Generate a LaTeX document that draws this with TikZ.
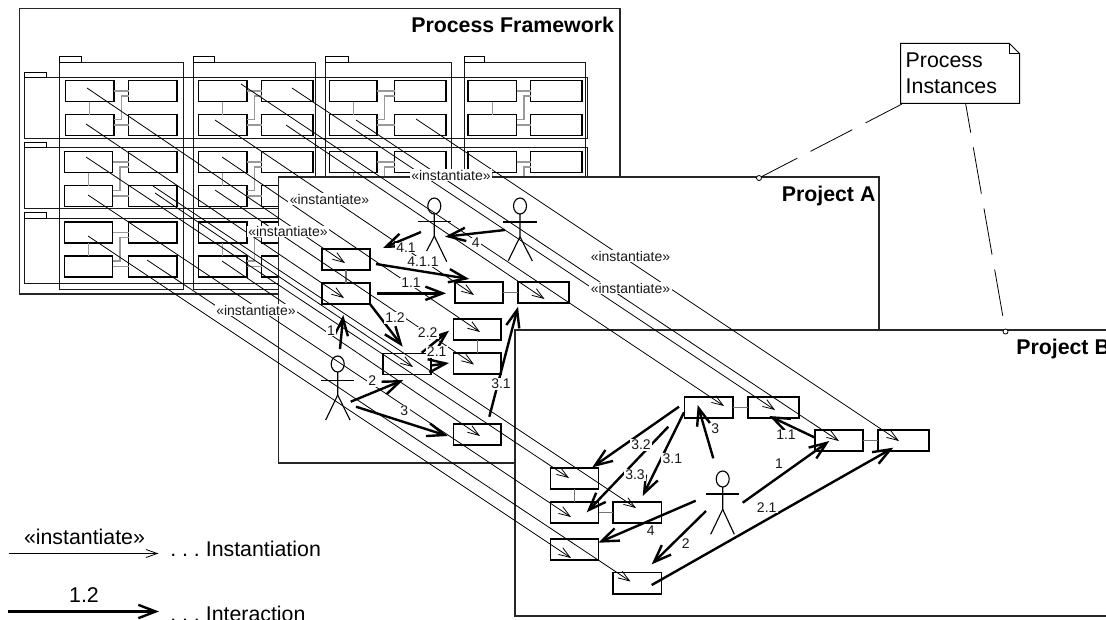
\documentclass[tikz,border=0pt]{standalone}
\usepackage{fontspec}
\setmainfont{Liberation Sans}
\usetikzlibrary{arrows.meta}
\tikzset{
  frameline/.style={draw=black!85,line width=.8pt,fill=white,inner sep=0pt,outer sep=0pt,rectangle},
  lanebody/.style={draw=black!90,line width=.75pt,inner sep=0pt,outer sep=0pt,rectangle},
  lanetab/.style={draw=black,line width=.75pt,fill=white,inner sep=0pt,outer sep=0pt,rectangle},
  procbox/.style={draw=black,line width=1.15pt,fill=white,inner sep=0pt,outer sep=0pt,rectangle},
  flink/.style={draw=black!40,line width=1pt},
  plink/.style={draw=black!55,line width=1pt},
  inst/.style={draw=black,line width=.6pt,-{Straight Barb[length=8.5pt,width=6pt]}},
  interact/.style={draw=black,line width=1.8pt,-{Straight Barb[length=13pt,width=10pt]}},
  smalllabel/.style={fill=white,inner xsep=1pt,inner ysep=.5pt,font=\fontsize{10.5}{12}\selectfont,text=black!90},
  biglabel/.style={inner sep=0pt,font=\fontsize{16}{19}\selectfont\frenchspacing},
  titlelabel/.style={inner sep=0pt,anchor=base west,font=\fontsize{16}{19}\selectfont\bfseries},
  actorline/.style={draw=black,line width=.85pt},
  anchorring/.style={circle,draw=black,line width=.6pt,fill=white,inner sep=0pt,minimum size=3.8pt},
  notedash/.style={draw=black,line width=.6pt}
}
\newcommand{\rectnode}[6]{\node[#1,minimum width={((#5)-(#3))*0.75pt},minimum height={((#6)-(#4))*0.75pt}] (#2) at ({((#3)+(#5))/2},{((#4)+(#6))/2}) {};}
\newcommand{\stickman}[9]{%
  \draw[actorline] (#1,#2) ellipse [x radius=6.5,y radius=8];
  \draw[actorline] (#3,#4) -- (#5,#4);
  \draw[actorline] (#1,{#2+8}) -- (#1,#6) -- (#7,#8);
  \draw[actorline] (#1,#6) -- (#9);
}
\begin{document}
\begin{tikzpicture}[x=0.75pt,y=-0.75pt]
\useasboundingbox (0,0) rectangle (1106,619);
% framework
\rectnode{frameline}{framework}{19.5}{8.5}{620}{294}
\node[titlelabel] (fwtitle) at (411,32.7) {Process Framework};
% columns
\foreach \c/\xa/\xt/\xb in {1/59.5/81/183,2/193.5/214/315,3/325/348/451,4/464.5/484.5/585}{
  \rectnode{lanebody}{col\c}{\xa}{62}{\xb}{289}
  \rectnode{lanetab}{coltab\c}{\xa}{56.5}{\xt}{62}
}
% rows
\foreach \r/\ya/\yb/\yc in {1/72/77.5/138,2/142.5/147/208,3/212.5/218/283.5}{
  \rectnode{lanebody}{row\r}{24.5}{\yb}{587.6}{\yc}
  \rectnode{lanetab}{rowtab\r}{24.5}{\ya}{46}{\yb}
}
% framework cells
\foreach \n/\ax/\aX/\bx/\bX/\y in {
  a/65.5/114/128.5/177/80.5, b/64.5/112.5/128.5/177/151.5, c/64.5/112.5/128.5/177/222,
  d/198.5/247/261.5/313/80.5, e/198.5/247/261.5/313/151.5, f/198.5/247/261.5/313/222,
  g/329.5/377/394.5/446/80.5, h/329.5/377/394.5/446/151.5, i/329.5/377/394.5/446/222,
  j/468/516.5/530.5/582/80.5, k/468/516.5/530.5/582/151.5, m/468/516.5/530.5/582/222}{
  \rectnode{procbox}{\n A}{\ax}{\y}{\aX}{\y+21}
  \rectnode{procbox}{\n B}{\bx}{\y}{\bX}{\y+21}
  \rectnode{procbox}{\n C}{\ax}{\y+34}{\aX}{\y+55}
  \rectnode{procbox}{\n D}{\bx}{\y+34}{\bX}{\y+55}
  \draw[flink] (\n A.south) -- (\n C.north);
  \draw[flink] (\n A.east) -- (\n B.west);
  \draw[flink] (\n C.east) -- (\n D.west);
  \draw[flink] ([yshift=-3.75pt]\n C.north east) -- ++(7.5,0) |- ([yshift=-11.5pt]\n B.north west);
}
% project A
\rectnode{frameline}{projA}{278.5}{177}{879}{463}
\node[titlelabel] (patitle) at (781.5,201) {Project A};
\foreach \n/\a/\b/\c/\d in {
  pa1/322/249/370/270, pa2/322/283/370/304, pa3/455/282/503/303, pa4/518/282/569/303,
  pa5/453.5/319/501/340, pa6/453.5/353/501/374, pa7/383/353.5/431/374.5, pa8/453.5/424/501/445}{
  \rectnode{procbox}{\n}{\a}{\b}{\c}{\d}
}
\draw[plink] (pa1.south) -- (pa2.north);
\draw[plink] (pa3.east) -- (pa4.west);
\draw[plink] (pa5.south) -- (pa6.north);
\stickman{434.3}{206}{417.7}{221.7}{450.7}{236}{426.7}{251}{446.7,261.7}
\stickman{520}{206}{503.3}{222}{536.7}{236.7}{508.3}{260.7}{532.3,261}
\stickman{337.7}{364}{321}{380.3}{354}{395}{325.7}{420}{350,420}
% project B
\rectnode{frameline}{projB}{515}{330}{1130}{616}
\node[titlelabel] (pbtitle) at (1016,354) {Project B};
\foreach \n/\a/\b/\c/\d in {
  pb1/684.5/397/733/418, pb2/748/397/799/418, pb3/815/430/863/451, pb4/878/430/929/451,
  pb5/550.5/468/598.5/489, pb6/550.5/502/598.5/523, pb7/613/502/661.5/523,
  pb8/550.5/539/598.5/560, pb9/613/572.5/661.5/594}{
  \rectnode{procbox}{\n}{\a}{\b}{\c}{\d}
}
\draw[plink] (pb1.east) -- (pb2.west);
\draw[plink] (pb3.east) -- (pb4.west);
\draw[plink] (pb5.south) -- (pb6.north);
\draw[plink] (pb6.east) -- (pb7.west);
\stickman{722.7}{479}{706}{494}{739}{509.3}{710.7}{534.3}{734.3,534.3}
% instantiation connectors
\foreach \i/\a/\b/\c/\d in {
  1/87/88/345/263, 2/86/124/344/298, 3/215/120/474/295, 4/286/125/544.5/299,
  5/222/157/480/332, 6/215/190/474/364.5, 7/155/193/413/367, 8/222/261/480/436,
  9/241/84/724/406, 10/292/88/775/410, 11/356/120/839/441, 12/416/119/899/441,
  13/86/157/569/478, 14/88/195/571/517, 15/153/186/636/508, 16/88/236/571/558, 17/147/260/630.5/581.5}{
  \coordinate (is\i) at (\a,\b);
  \coordinate (ie\i) at (\c,\d);
  \draw[inst] (is\i) -- (ie\i);
}
% interaction connectors
\foreach \i/\a/\b/\c/\d in {
  1/421/232/383/248, 2/505/230/445/236.7, 3/376/264/469.3/279, 4/376.7/293.3/446/293.3,
  5/370/304/402.7/346.7, 6/340/349/343.3/315, 7/350.7/401.7/403.3/380, 8/356/406.7/447.7/436,
  9/421.7/352.7/449/330.7, 10/431/365.5/449/363, 11/489.3/416.7/518/306.7,
  12/679/406.7/592.3/467.3, 13/668.3/426.7/586.7/512.3, 14/684/412.3/642.7/496,
  15/713.3/458.3/697.7/405, 16/814.3/437.3/769.3/416, 17/742.7/502.7/829.3/441,
  18/651.7/585/893.3/447.7, 19/695.7/500.7/598.3/542.7, 20/706/511/651.7/564.3}{
  \coordinate (ts\i) at (\a,\b);
  \coordinate (te\i) at (\c,\d);
  \draw[interact] (ts\i) -- (te\i);
}
% interaction labels
\foreach \i/\a/\b/\t in {
  1/406/248/4.1, 2/475.7/243/4, 3/423/261.7/4.1.1, 4/411/283/1.1, 5/395/318/1.2, 6/331/330.7/1,
  7/372.3/381/2, 8/404.3/411/3, 9/427.7/333/2.2, 10/436.7/352/2.1, 11/501/384/3.1,
  12/641/445/3.2, 13/635/475/3.3, 14/672.3/458.3/3.1, 15/715.3/428.3/3, 16/786/435/1.1,
  17/779/463.3/1, 18/766.7/507.3/2.1, 19/650.7/531/4, 20/685.7/544/2}{
  \node[smalllabel] (num\i) at (\a,\b) {\t};
}
% instantiate labels
\foreach \i/\a/\b in {1/451/175,2/329.5/199,3/288/231.5,4/256/310,5/630.5/256,6/630.5/288}{
  \node[smalllabel] (stereo\i) at (\a,\b) {«instantiate»};
}
% note
\node[inner xsep=3.75pt,inner ysep=0pt,outer sep=0pt,minimum height=45pt,text width=81.75pt,align=left,
      font=\fontsize{16}{19.5}\selectfont] (note) at (960.2,73.3) {Process\\Instances};
\draw[black,line width=.75pt] (note.north west) -- ([xshift=-7.8pt]note.north east) -- ([yshift=-7.8pt]note.north east) -- (note.south east) -- (note.south west) -- cycle;
\draw[black,line width=.75pt] ([xshift=-7.8pt]note.north east) -- ([xshift=-7.8pt,yshift=-7.8pt]note.north east) -- ([yshift=-7.8pt]note.north east);
\node[anchorring] (ringA) at (759,178) {};
\node[anchorring] (ringB) at (1005.5,331.5) {};
\coordinate (noteA) at (902,104);
\coordinate (noteB) at (965.7,104);
\draw[notedash,dash pattern=on 35.25pt off 11.25pt,dash phase=4.5pt] (noteA) -- (ringA);
\draw[notedash,dash pattern=on 35.25pt off 11.25pt,dash phase=13.5pt] (noteB) -- (ringB);
% legend
\coordinate (lga) at (8.5,553.5);
\coordinate (lgb) at (158.5,553.5);
\draw[inst] (lga) -- (lgb);
\node[biglabel] (lgi) at (84.5,537) {«instantiate»};
\node[biglabel,anchor=base west] (lgit) at (170,556.7) {. . . Instantiation};
\coordinate (lgc) at (8,611.5);
\coordinate (lgd) at (159,611.5);
\draw[interact] (lgc) -- (lgd);
\node[biglabel] (lgn) at (84,595) {1.2};
\node[biglabel,anchor=base west] (lgnt) at (170,621.5) {. . . Interaction};
\end{tikzpicture}
\end{document}
